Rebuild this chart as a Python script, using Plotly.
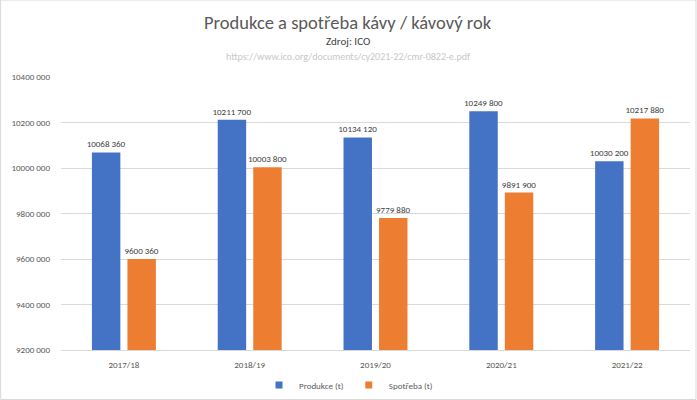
import plotly.graph_objects as go

categories = ["2017/18", "2018/19", "2019/20", "2020/21", "2021/22"]
produkce = [10068360, 10211700, 10134120, 10249800, 10030200]
spotreba = [9600360, 10003800, 9779880, 9891900, 10217880]
tick_vals = [9200000, 9400000, 9600000, 9800000, 10000000, 10200000, 10400000]
series_names = ["Produkce (t)", "Spotřeba (t)"]
colors = ["#4472C4", "#ED7D31"]


def fmt(v):
    return f"{v // 1000} {v % 1000:03d}"


FONT = "Calibri, Carlito, Lato, sans-serif"
GREY = "#595959"

fig = go.Figure()
for name, vals, col in zip(series_names, [produkce, spotreba], colors):
    fig.add_trace(go.Bar(
        x=categories, y=vals, name=name, showlegend=False,
        marker=dict(color=col, line=dict(width=0)),
        text=[fmt(v) for v in vals], textposition="outside",
        textfont=dict(size=9, color="#404040", family=FONT), cliponaxis=False,
    ))
for name, col in zip(series_names, colors):
    fig.add_trace(go.Scatter(
        x=[None], y=[None], mode="markers", name=name,
        marker=dict(symbol="square", size=7, color=col), showlegend=True,
    ))

fig.update_layout(
    width=697, height=400,
    margin=dict(l=61, r=7, t=77, b=50, autoexpand=False),
    paper_bgcolor="white", plot_bgcolor="white",
    font=dict(family=FONT, color=GREY, size=9),
    barmode="group", bargap=0.435, bargroupgap=0.2,
    showlegend=True,
    legend=dict(orientation="h", x=0.5, xanchor="center", xref="container",
                y=0.0375, yanchor="middle", yref="container",
                bgcolor="rgba(0,0,0,0)",
                font=dict(size=9, color=GREY, family=FONT), itemwidth=30,
                tracegroupgap=0),
    xaxis=dict(showgrid=False, showline=True, linecolor="#d9d9d9", linewidth=1,
               ticks="", tickfont=dict(size=9, color=GREY), ticklabelstandoff=6,
               automargin=False),
    yaxis=dict(range=[9200000, 10400000], tickvals=tick_vals,
               ticktext=[fmt(v) for v in tick_vals], showgrid=True,
               gridcolor="#d9d9d9", gridwidth=1, zeroline=False, showline=False,
               ticks="", tickfont=dict(size=9, color=GREY), ticklabelstandoff=10,
               automargin=False),
    uniformtext=dict(minsize=8, mode="show"),
)

fig.add_annotation(text="Produkce a spotřeba kávy / kávový rok", xref="paper", yref="paper",
                   x=0.457, y=1.0, yshift=55, yanchor="middle", showarrow=False,
                   font=dict(size=18.5, color=GREY, family=FONT))
fig.add_annotation(text="Zdroj: ICO", xref="paper", yref="paper",
                   x=0.457, y=1.0, yshift=36, yanchor="middle", showarrow=False,
                   font=dict(size=11, color="#404040", family=FONT))
fig.add_annotation(text="https://www.ico.org/documents/cy2021-22/cmr-0822-e.pdf", xref="paper", yref="paper",
                   x=0.457, y=1.0, yshift=21, yanchor="middle", showarrow=False,
                   font=dict(size=10, color="#c8c8c8", family=FONT))

# chart area border
fig.add_shape(type="rect", xref="paper", yref="paper",
              x0=-61 / 629 + 0.001, x1=1 + 6 / 629, y0=-50 / 273 + 0.002, y1=1 + 77 / 273,
              line=dict(color="#d9d9d9", width=1), fillcolor="rgba(0,0,0,0)", layer="below")

fig.write_html("out.html")
